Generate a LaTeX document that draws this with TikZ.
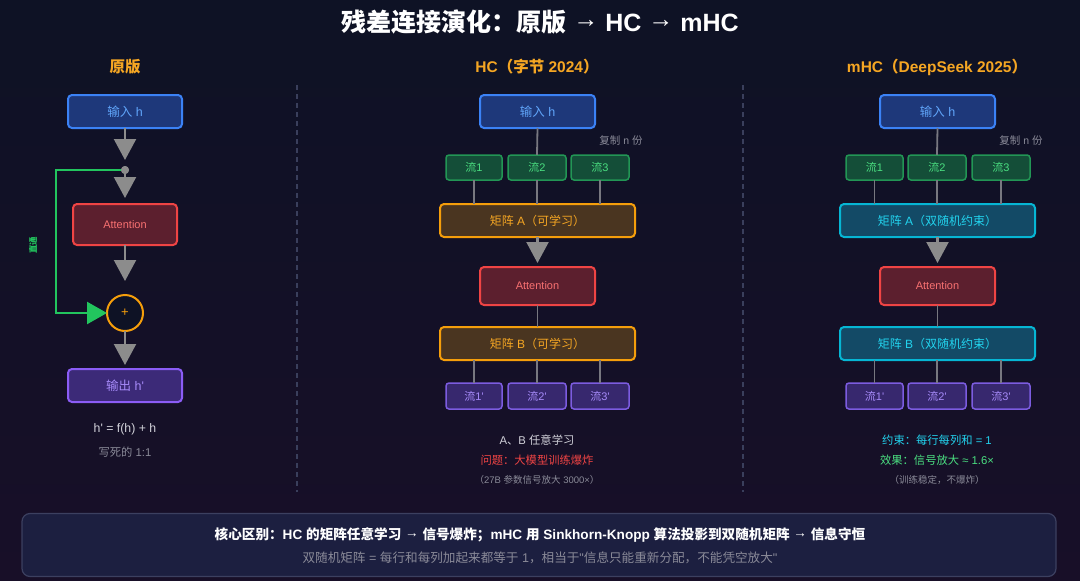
\documentclass[tikz,border=0pt]{standalone}
\usepackage{fontspec}
\newfontfamily\la{Liberation Sans}
\newfontfamily\cj{Noto Sans CJK SC}
\newcommand\zh[1]{{\cj #1}}
\newcommand\rarr{\raisebox{0.15em}{→}}
\usetikzlibrary{arrows.meta}
\definecolor{bgtop}{RGB}{14,18,37}
\definecolor{bgbot}{RGB}{24,15,40}
\definecolor{arrgray}{RGB}{140,140,140}
\definecolor{lngray}{RGB}{120,120,128}
\definecolor{sepgray}{RGB}{58,63,92}
\definecolor{hdr}{RGB}{245,166,35}
\definecolor{bluebd}{RGB}{59,130,246}
\definecolor{bluefl}{RGB}{30,56,122}
\definecolor{bluetx}{RGB}{96,165,250}
\definecolor{redbd}{RGB}{239,68,68}
\definecolor{redfl}{RGB}{92,31,46}
\definecolor{redtx}{RGB}{248,113,113}
\definecolor{purbd}{RGB}{139,92,246}
\definecolor{purfl}{RGB}{60,42,120}
\definecolor{purtx}{RGB}{167,139,250}
\definecolor{grnbd}{RGB}{34,150,85}
\definecolor{grnfl}{RGB}{20,78,56}
\definecolor{grntx}{RGB}{74,222,128}
\definecolor{grnln}{RGB}{34,197,94}
\definecolor{orgbd}{RGB}{245,158,11}
\definecolor{orgfl}{RGB}{74,53,32}
\definecolor{orgtx}{RGB}{245,166,35}
\definecolor{cynbd}{RGB}{6,182,212}
\definecolor{cynfl}{RGB}{19,74,102}
\definecolor{cyntx}{RGB}{34,211,238}
\definecolor{pflbd}{RGB}{124,92,224}
\definecolor{pflfl}{RGB}{55,40,110}
\definecolor{lighttx}{RGB}{210,210,218}
\definecolor{graytx}{RGB}{138,138,152}
\definecolor{panelfl}{RGB}{28,31,64}
\definecolor{panelbd}{RGB}{60,64,96}
\tikzset{
  box/.style={draw, rounded corners=4pt, line width=2pt, inner sep=0pt, outer sep=0pt, align=center},
  inbox/.style={box, draw=bluebd, fill=bluefl, text=bluetx, minimum width=114pt, minimum height=33pt, font=\la\fontsize{12.5}{12.5}\selectfont},
  attbox/.style={box, draw=redbd, fill=redfl, text=redtx, font=\la\fontsize{11}{11}\selectfont},
  outbox/.style={box, draw=purbd, fill=purfl, text=purtx, minimum width=114pt, minimum height=33pt, font=\la\fontsize{12.5}{12.5}\selectfont},
  flowbox/.style={box, line width=1.5pt, rounded corners=3pt, draw=grnbd, fill=grnfl, text=grntx, minimum width=57pt, minimum height=25pt, font=\la\fontsize{11}{11}\selectfont},
  flowout/.style={box, line width=1.5pt, rounded corners=3pt, draw=pflbd, fill=pflfl, text=purtx, minimum width=57pt, minimum height=26pt, font=\la\fontsize{11}{11}\selectfont},
  matA/.style={box, draw=orgbd, fill=orgfl, text=orgtx, minimum width=195pt, minimum height=33pt, font=\la\fontsize{12}{12}\selectfont},
  matC/.style={box, draw=cynbd, fill=cynfl, text=cyntx, minimum width=195pt, minimum height=33pt, font=\la\fontsize{12}{12}\selectfont},
  arr/.style={draw=arrgray, line width=2.2pt, -{Triangle[width=22pt,length=21pt]}},
  ln/.style={draw=lngray, line width=1.8pt},
  hdrtx/.style={text=hdr, font=\la\fontsize{15.5}{15.5}\selectfont\bfseries},
  smalltx/.style={font=\la\fontsize{9.5}{9.5}\selectfont},
  txt/.style={font=\la\fontsize{11.3}{11.3}\selectfont},
  sep/.style={draw=sepgray, line width=1.2pt, dash pattern=on 5pt off 4pt}
}
\begin{document}
\begin{tikzpicture}[x=1pt,y=-1pt]
\la
\useasboundingbox (0,0) rectangle (1080,581);
\shade[top color=bgtop, bottom color=bgbot] (0,0) rectangle (1080,581);

% title and headers
\node[text=white, font=\la\fontsize{25}{25}\selectfont\bfseries] (title) at (540,22) {\zh{残差连接演化：原版} \rarr{} HC \rarr{} mHC};
\node[hdrtx] (h1) at (125,67) {\zh{原版}};
\node[hdrtx] (h2) at (537,67) {HC\zh{（字节} 2024\zh{）}};
\node[hdrtx] (h3) at (937,67) {mHC\zh{（}DeepSeek 2025\zh{）}};

% separators
\coordinate (s1a) at (297,85); \coordinate (s1b) at (297,492);
\coordinate (s2a) at (743,85); \coordinate (s2b) at (743,492);
\draw[sep] (s1a) -- (s1b);
\draw[sep] (s2a) -- (s2b);

% ---------- left column ----------
\node[inbox] (inL) at (125,111.5) {\zh{输入} h};
\node[circle, fill=arrgray, minimum size=8pt, inner sep=0pt, outer sep=0pt] (dotL) at (125,170) {};
\node[attbox, minimum width=104pt, minimum height=41pt] (attL) at (125,224.5) {Attention};
\node[circle, draw=orgbd, line width=2pt, fill=bgtop, minimum size=36pt, inner sep=0pt, outer sep=0pt, text=orgbd, font=\la\fontsize{13}{13}\selectfont] (plusL) at (125,313) {+};
\node[outbox] (outL) at (125,385.5) {\zh{输出} h'};
\coordinate (gc1) at (56,170);
\draw[draw=grnln, line width=2.5pt, -{Triangle[width=22pt,length=20pt]}] (dotL.center) -- (gc1) |- (plusL.west);
\node[circle, fill=arrgray, minimum size=8pt, inner sep=0pt] (dotL2) at (dotL) {};
\node[text=grnln, rotate=90, font=\la\fontsize{8.5}{8.5}\selectfont\bfseries] (lblL) at (33,245) {\zh{直通}};
\draw[arr, shorten >=6pt] (inL.south) -- (dotL.north);
\draw[arr, shorten >=6pt] (dotL.south) -- (attL.north);
\draw[arr, shorten >=14pt] (attL.south) -- (plusL.north);
\draw[arr, shorten >=4pt] (plusL.south) -- (outL.north);
\node[text=lighttx, font=\la\fontsize{12.3}{12.3}\selectfont] (fL) at (125,429) {h' = f(h) + h};
\node[text=graytx, font=\la\fontsize{11.3}{11.3}\selectfont] (nL) at (125,452) {\zh{写死的} 1:1};

% ---------- middle column ----------
\node[inbox, minimum width=115pt] (inM) at (537.5,111.5) {\zh{输入} h};
\node[text=graytx, font=\la\fontsize{10.5}{10.5}\selectfont] (cpM) at (621,141) {\zh{复制} n \zh{份}};
\node[flowbox, minimum width=56pt] (fM1) at (474,167.5) {\zh{流}1};
\node[flowbox, minimum width=58pt] (fM2) at (537,167.5) {\zh{流}2};
\node[flowbox, minimum width=58pt] (fM3) at (600,167.5) {\zh{流}3};
\node[matA] (mAM) at (537.5,220.5) {\zh{矩阵} A\zh{（可学习）}};
\node[attbox, minimum width=115pt, minimum height=38pt] (attM) at (537.5,286) {Attention};
\node[matA] (mBM) at (537.5,343.5) {\zh{矩阵} B\zh{（可学习）}};
\node[flowout, minimum width=56pt] (gM1) at (474,396) {\zh{流}1'};
\node[flowout, minimum width=58pt] (gM2) at (537,396) {\zh{流}2'};
\node[flowout, minimum width=58pt] (gM3) at (600,396) {\zh{流}3'};
\draw[ln] (inM.south) -- (fM2.north);
\foreach \f in {fM1,fM2,fM3} \draw[ln] (\f.south) -- (\f.south |- mAM.north);
\draw[arr, shorten >=4pt] (mAM.south) -- (attM.north);
\draw[ln] (attM.south) -- (mBM.north);
\foreach \g in {gM1,gM2,gM3} \draw[ln] (\g.north |- mBM.south) -- (\g.north);
\node[text=lighttx, txt] (tM1) at (537,440) {A\zh{、}B \zh{任意学习}};
\node[text=redbd, txt] (tM2) at (537,460) {\zh{问题：大模型训练爆炸}};
\node[text=graytx, smalltx] (tM3) at (537,480) {\zh{（}27B \zh{参数信号放大} 3000×\zh{）}};

% ---------- right column ----------
\node[inbox, minimum width=115pt] (inR) at (937.5,111.5) {\zh{输入} h};
\node[text=graytx, font=\la\fontsize{10.5}{10.5}\selectfont] (cpR) at (1021,141) {\zh{复制} n \zh{份}};
\node[flowbox, minimum width=57pt] (fR1) at (874.5,167.5) {\zh{流}1};
\node[flowbox, minimum width=58pt] (fR2) at (937,167.5) {\zh{流}2};
\node[flowbox, minimum width=58pt] (fR3) at (1001,167.5) {\zh{流}3};
\node[matC] (mAR) at (937.5,220.5) {\zh{矩阵} A\zh{（双随机约束）}};
\node[attbox, minimum width=115pt, minimum height=38pt] (attR) at (937.5,286) {Attention};
\node[matC] (mBR) at (937.5,343.5) {\zh{矩阵} B\zh{（双随机约束）}};
\node[flowout, minimum width=57pt] (gR1) at (874.5,396) {\zh{流}1'};
\node[flowout, minimum width=58pt] (gR2) at (937,396) {\zh{流}2'};
\node[flowout, minimum width=58pt] (gR3) at (1001,396) {\zh{流}3'};
\draw[ln] (inR.south) -- (fR2.north);
\foreach \f in {fR1,fR2,fR3} \draw[ln] (\f.south) -- (\f.south |- mAR.north);
\draw[arr, shorten >=4pt] (mAR.south) -- (attR.north);
\draw[ln] (attR.south) -- (mBR.north);
\foreach \g in {gR1,gR2,gR3} \draw[ln] (\g.north |- mBR.south) -- (\g.north);
\node[text=cyntx, txt] (tR1) at (937,440) {\zh{约束：每行每列和} = 1};
\node[text=grntx, txt] (tR2) at (937,460) {\zh{效果：信号放大} ≈ 1.6×};
\node[text=graytx, smalltx] (tR3) at (937,480) {\zh{（训练稳定，不爆炸）}};

% ---------- bottom panel ----------
\node[draw=panelbd, fill=panelfl, line width=1.2pt, rounded corners=8pt, minimum width=1034pt, minimum height=63pt, inner sep=0pt] (panel) at (539,545) {};
\node[text=white, font=\la\fontsize{13.6}{13.6}\selectfont\bfseries] (p1) at (540,535) {\zh{核心区别：}HC \zh{的矩阵任意学习} \rarr{} \zh{信号爆炸；}mHC \zh{用} Sinkhorn-Knopp \zh{算法投影到双随机矩阵} \rarr{} \zh{信息守恒}};
\node[text=graytx, font=\la\fontsize{12.6}{12.6}\selectfont] (p2) at (540,558) {\zh{双随机矩阵} = \zh{每行和每列加起来都等于} 1\zh{，相当于}"\zh{信息只能重新分配，不能凭空放大}"};
\end{tikzpicture}
\end{document}
